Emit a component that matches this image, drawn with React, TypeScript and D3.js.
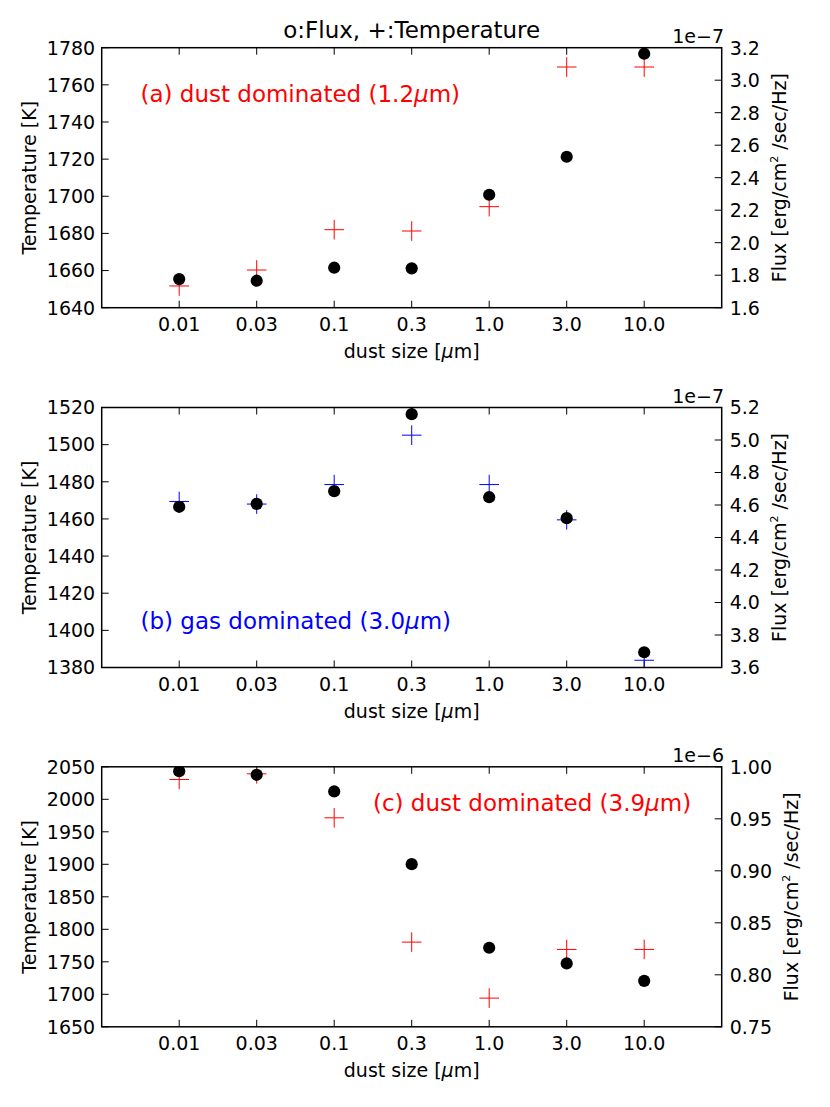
import * as d3 from "d3"

// dust size categories (x axis)
const sizeLabels = ["0.01", "0.03", "0.1", "0.3", "1.0", "3.0", "10.0"]

// (a) dust dominated 1.2um
const tempA = [1651.7, 1660.3, 1682.0, 1681.3, 1694.4, 1769.6, 1769.6]
const fluxA = [1.776, 1.766, 1.846, 1.842, 2.295, 2.529, 3.163] // x 1e-7
const tempTicksA = [1640, 1660, 1680, 1700, 1720, 1740, 1760, 1780]
const fluxTicksA = [1.6, 1.8, 2.0, 2.2, 2.4, 2.6, 2.8, 3.0, 3.2]

// (b) gas dominated 3.0um
const tempB = [1469.4, 1468.0, 1478.5, 1505.1, 1478.5, 1459.5, 1383.9]
const fluxB = [4.589, 4.607, 4.685, 5.159, 4.648, 4.519, 3.694] // x 1e-7
const tempTicksB = [1380, 1400, 1420, 1440, 1460, 1480, 1500, 1520]
const fluxTicksB = [3.6, 3.8, 4.0, 4.2, 4.4, 4.6, 4.8, 5.0, 5.2]

// (c) dust dominated 3.9um
const tempC = [2030.5, 2039.2, 1971.5, 1780.3, 1694.1, 1769.0, 1769.0]
const fluxC = [0.9958, 0.9923, 0.9763, 0.9064, 0.826, 0.8109, 0.7942] // x 1e-6
const tempTicksC = [1650, 1700, 1750, 1800, 1850, 1900, 1950, 2000, 2050]
const fluxTicksC = [0.75, 0.8, 0.85, 0.9, 0.95, 1.0]

const FONT = "DejaVu Sans"
const W = 830
const H = 1107
const LEFT = 101.7
const PW = 620
const PH = 260
const TICK = 7
const FS = 19

interface PanelProps {
    top: number
    temp: number[]
    flux: number[]
    tempTicks: number[]
    fluxTicks: number[]
    fluxFmt: string
    offsetText: string
    color: string
    label: string
    labelAt: [number, number]
    title?: string
}

function Panel({ top, temp, flux, tempTicks, fluxTicks, fluxFmt, offsetText, color, label, labelAt, title }: PanelProps) {
    const x = d3.scaleLinear().domain([-1, sizeLabels.length]).range([0, PW])
    const yT = d3.scaleLinear().domain(d3.extent(tempTicks) as [number, number]).range([PH, 0])
    const yF = d3.scaleLinear().domain(d3.extent(fluxTicks) as [number, number]).range([PH, 0])
    const fmt = d3.format(fluxFmt)
    const clipId = `clip-${top}`
    const [pre, post] = label.split("μ")
    // rough width of the right tick labels, so the right axis label clears them
    const tickW = (fmt(fluxTicks[0]).replace(/\./g, "").length * 0.636 + 0.318) * 18.5
    const rightLabelX = PW + 35 + tickW
    const plus = "M-9.8,0H9.8M0,-9.8V9.8"

    return (
        <g transform={`translate(${LEFT},${top})`} fontFamily={FONT}>
            <defs>
                <clipPath id={clipId}>
                    <rect x={0} y={0} width={PW} height={PH} />
                </clipPath>
            </defs>

            {/* x ticks top & bottom */}
            {sizeLabels.map((s, i) => (
                <g key={s}>
                    <line x1={x(i)} x2={x(i)} y1={0} y2={TICK} stroke="#000" strokeWidth={1} />
                    <line x1={x(i)} x2={x(i)} y1={PH} y2={PH - TICK} stroke="#000" strokeWidth={1} />
                    <text x={x(i)} y={PH + 23} fontSize={FS} textAnchor="middle">{s}</text>
                </g>
            ))}

            {/* left temperature ticks */}
            {tempTicks.map((t) => (
                <g key={t}>
                    <line x1={0} x2={TICK} y1={yT(t)} y2={yT(t)} stroke="#000" strokeWidth={1} />
                    <text x={-6.5} y={yT(t)} dy="0.36em" fontSize={FS} textAnchor="end">{t}</text>
                </g>
            ))}

            {/* right flux ticks */}
            {fluxTicks.map((f) => (
                <g key={f}>
                    <line x1={PW - TICK} x2={PW} y1={yF(f)} y2={yF(f)} stroke="#000" strokeWidth={1} />
                    <text x={PW + 8} y={yF(f)} dy="0.36em" fontSize={FS}>{fmt(f)}</text>
                </g>
            ))}

            <g clipPath={`url(#${clipId})`}>
                {temp.map((t, i) => (
                    <path key={i} d={plus} transform={`translate(${x(i)},${yT(t)})`} stroke={color} strokeWidth={1} fill="none" />
                ))}
                {flux.map((f, i) => (
                    <circle key={i} cx={x(i)} cy={yF(f)} r={6.1} fill="#000" />
                ))}
            </g>

            <text x={x(labelAt[0])} y={yT(labelAt[1])} fontSize={23} fill={color}>
                {pre}<tspan fontStyle="italic">μ</tspan>{post}
            </text>

            <rect x={0} y={0} width={PW} height={PH} fill="none" stroke="#000" strokeWidth={1.5} />

            <text x={PW + 2.3} y={-5} fontSize={FS} textAnchor="end">{offsetText}</text>

            {title && (
                <text x={PW / 2} y={-9.4} fontSize={23} textAnchor="middle">{title}</text>
            )}

            <text x={PW / 2} y={PH + 50.6} fontSize={FS} textAnchor="middle">
                dust size [<tspan fontStyle="italic">μ</tspan>m]
            </text>

            <text transform={`translate(${-66},${PH / 2}) rotate(-90)`} fontSize={FS} textAnchor="middle">
                Temperature [K]
            </text>

            <text transform={`translate(${rightLabelX},${PH / 2}) rotate(-90)`} fontSize={FS} textAnchor="middle">
                Flux [erg/cm<tspan fontSize={11} dy={-8}>2</tspan><tspan dy={8}> /sec/Hz]</tspan>
            </text>
        </g>
    )
}

export default function App() {
    return (
        <div style={{ position: "absolute", left: 0, top: 0 }}>
            <svg width={W} height={H} style={{ display: "block", background: "#fff" }}>
                <Panel
                    top={47.7}
                    temp={tempA}
                    flux={fluxA}
                    tempTicks={tempTicksA}
                    fluxTicks={fluxTicksA}
                    fluxFmt=".1f"
                    offsetText="1e−7"
                    color="#ff0000"
                    label="(a) dust dominated (1.2μm)"
                    labelAt={[-0.5, 1751]}
                    title="o:Flux, +:Temperature"
                />
                <Panel
                    top={407.5}
                    temp={tempB}
                    flux={fluxB}
                    tempTicks={tempTicksB}
                    fluxTicks={fluxTicksB}
                    fluxFmt=".1f"
                    offsetText="1e−7"
                    color="#0000ff"
                    label="(b) gas dominated (3.0μm)"
                    labelAt={[-0.5, 1401]}
                />
                <Panel
                    top={766.8}
                    temp={tempC}
                    flux={fluxC}
                    tempTicks={tempTicksC}
                    fluxTicks={fluxTicksC}
                    fluxFmt=".2f"
                    offsetText="1e−6"
                    color="#ff0000"
                    label="(c) dust dominated (3.9μm)"
                    labelAt={[2.5, 1982]}
                />
            </svg>
        </div>
    )
}
